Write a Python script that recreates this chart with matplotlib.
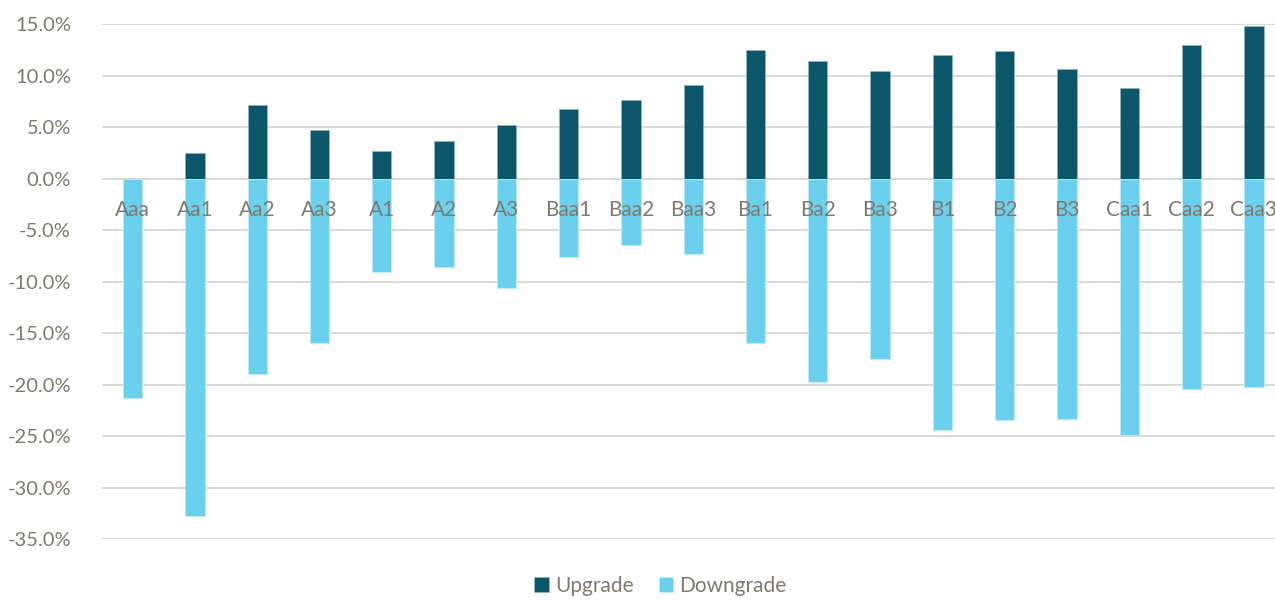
import numpy as np
import matplotlib
matplotlib.use("agg")
import matplotlib.pyplot as plt
from matplotlib.ticker import FuncFormatter, MultipleLocator

ratings = ["Aaa", "Aa1", "Aa2", "Aa3", "A1", "A2", "A3", "Baa1", "Baa2", "Baa3",
           "Ba1", "Ba2", "Ba3", "B1", "B2", "B3", "Caa1", "Caa2", "Caa3"]
upgrade = [0.0, 2.5, 7.2, 4.7, 2.7, 3.7, 5.2, 6.8, 7.6, 9.1,
           12.5, 11.4, 10.5, 12.0, 12.4, 10.7, 8.8, 13.0, 14.8]
downgrade = [-21.3, -32.8, -19.0, -16.0, -9.1, -8.6, -10.6, -7.6, -6.4, -7.3,
             -16.0, -19.7, -17.5, -24.4, -23.4, -23.3, -24.9, -20.4, -20.2]

text_col = "#7f7a6e"
up_col = "#0b5669"
down_col = "#6bcfee"

plt.rcParams["font.family"] = ["Lato", "DejaVu Sans"]

fig = plt.figure(figsize=(12.75, 6), dpi=100)
# plot area runs slightly past the right edge of the canvas
ax = fig.add_axes([101.5 / 1275, 61 / 600, (1285 - 101.5) / 1275, (539 - 24.3) / 600])

x = np.arange(len(ratings))
w = 0.31
ax.bar(x, upgrade, width=w, color=up_col, edgecolor="#8fb3bd", linewidth=0.6,
       label="Upgrade", zorder=2)
ax.bar(x, downgrade, width=w, color=down_col, edgecolor="#bfe9f7", linewidth=0.6,
       label="Downgrade", zorder=2)

ax.set_xlim(-0.5, len(ratings) - 0.5)
ax.set_ylim(-35, 15)
ax.yaxis.set_major_locator(MultipleLocator(5))
ax.yaxis.set_major_formatter(FuncFormatter(lambda v, p: "{:.1f}%".format(v)))
ax.grid(axis="y", color="#d9d9d6", linewidth=1.4)

# gridlines under the bars, category labels over them
ax.yaxis.set_zorder(0.5)
ax.xaxis.set_zorder(5)

for s in ["top", "right", "left"]:
    ax.spines[s].set_visible(False)
ax.spines["bottom"].set_position(("data", 0))
ax.spines["bottom"].set_visible(False)

ax.set_xticks(x)
ax.set_xticklabels(ratings)
ax.tick_params(axis="x", length=0, pad=15, labelsize=15, labelcolor=text_col)
ax.tick_params(axis="y", length=0, pad=22, labelsize=14.5, labelcolor=text_col)

leg = fig.legend(loc="center", bbox_to_anchor=(0.518, 0.024), ncol=2, frameon=False,
                 fontsize=15, handlelength=0.7, handleheight=0.7,
                 handletextpad=0.3, columnspacing=1.2)
for t in leg.get_texts():
    t.set_color(text_col)

fig.savefig("out.png", dpi=100)
